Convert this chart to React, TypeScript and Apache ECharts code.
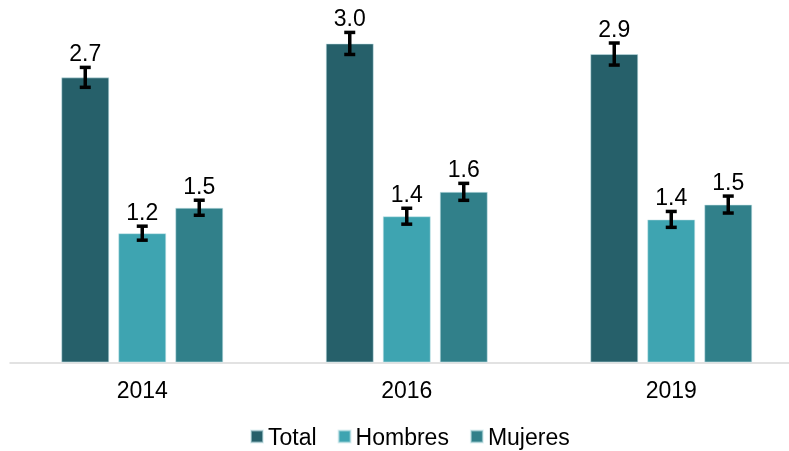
import React, { useEffect, useRef } from "react";
import * as echarts from "echarts";

const categories = ["2014", "2016", "2019"];
const seriesNames = ["Total", "Hombres", "Mujeres"];
const totalValues = [2.69, 3.01, 2.91];
const hombresValues = [1.22, 1.38, 1.35];
const mujeresValues = [1.46, 1.61, 1.49];
const totalErrors = [0.094, 0.104, 0.104];
const hombresErrors = [0.066, 0.075, 0.075];
const mujeresErrors = [0.071, 0.08, 0.08];

const colors = ["#26606A", "#3EA4B1", "#31808A"];
const FONT = "'Liberation Sans', Arial, sans-serif";
const BAR_W = 48;
const BAR_GAP = 9;

export default function App() {
  const ref = useRef<HTMLDivElement>(null);
  useEffect(() => {
    if (!ref.current) return;
    const chart = echarts.init(ref.current, undefined, { renderer: "svg" });
    const valueSets = [totalValues, hombresValues, mujeresValues];
    const errorSets = [totalErrors, hombresErrors, mujeresErrors];

    const barSeries = seriesNames.map((name, i) => ({
      name,
      type: "bar",
      data: valueSets[i],
      barWidth: BAR_W,
      barGap: (BAR_GAP / BAR_W) * 100 + "%",
      itemStyle: {
        color: colors[i],
        borderColor: "rgba(200,230,233,0.55)",
        borderWidth: 1,
      },
      z: 2,
    }));

    const errSeries = seriesNames.map((name, i) => ({
      name: name + "-err",
      type: "custom",
      z: 5,
      data: valueSets[i].map((v, j) => [j, v, errorSets[i][j]]),
      encode: { x: 0, y: 1 },
      renderItem: (params: any, api: any) => {
        const cat = api.value(0);
        const v = api.value(1);
        const e = api.value(2);
        const offset = (i - 1) * (BAR_W + BAR_GAP);
        const hi = api.coord([cat, v + e]);
        const lo = api.coord([cat, v - e]);
        const x = hi[0] + offset;
        const cap = 5.5;
        const style = { stroke: "#000", lineWidth: 3.5 };
        return {
          type: "group",
          children: [
            { type: "line", shape: { x1: x, y1: hi[1], x2: x, y2: lo[1] }, style },
            { type: "line", shape: { x1: x - cap, y1: hi[1], x2: x + cap, y2: hi[1] }, style },
            { type: "line", shape: { x1: x - cap, y1: lo[1], x2: x + cap, y2: lo[1] }, style },
            {
              type: "text",
              x: x,
              y: hi[1] - 3,
              style: {
                text: (Math.round(v * 10) / 10).toFixed(1),
                fill: "#000",
                font: "23px " + FONT,
                textAlign: "center",
                textVerticalAlign: "bottom",
              },
            },
          ],
        };
      },
    }));

    chart.setOption({
      animation: false,
      textStyle: { fontFamily: FONT },
      grid: {
        left: 10,
        right: -14.5,
        top: 23.3,
        bottom: 88.5,
        containLabel: false,
        outerBoundsMode: "none",
      },
      legend: {
        data: seriesNames,
        left: 245,
        top: 420,
        icon: "rect",
        itemWidth: 12,
        itemHeight: 12,
        itemGap: 21,
        textStyle: { fontSize: 23, color: "#000", fontFamily: FONT },
      },
      xAxis: {
        type: "category",
        data: categories,
        axisLine: { lineStyle: { color: "#D9D9D9", width: 1.5 } },
        axisTick: { show: false },
        axisLabel: { fontSize: 23, color: "#000", margin: 16, fontFamily: FONT },
      },
      yAxis: {
        type: "value",
        min: 0,
        max: 3.2,
        show: false,
        splitLine: { show: false },
      },
      series: [...barSeries, ...errSeries],
    });
    return () => chart.dispose();
  }, []);
  return (
    <div
      ref={ref}
      style={{ position: "fixed", left: 0, top: 0, width: 789, height: 451 }}
    />
  );
}
